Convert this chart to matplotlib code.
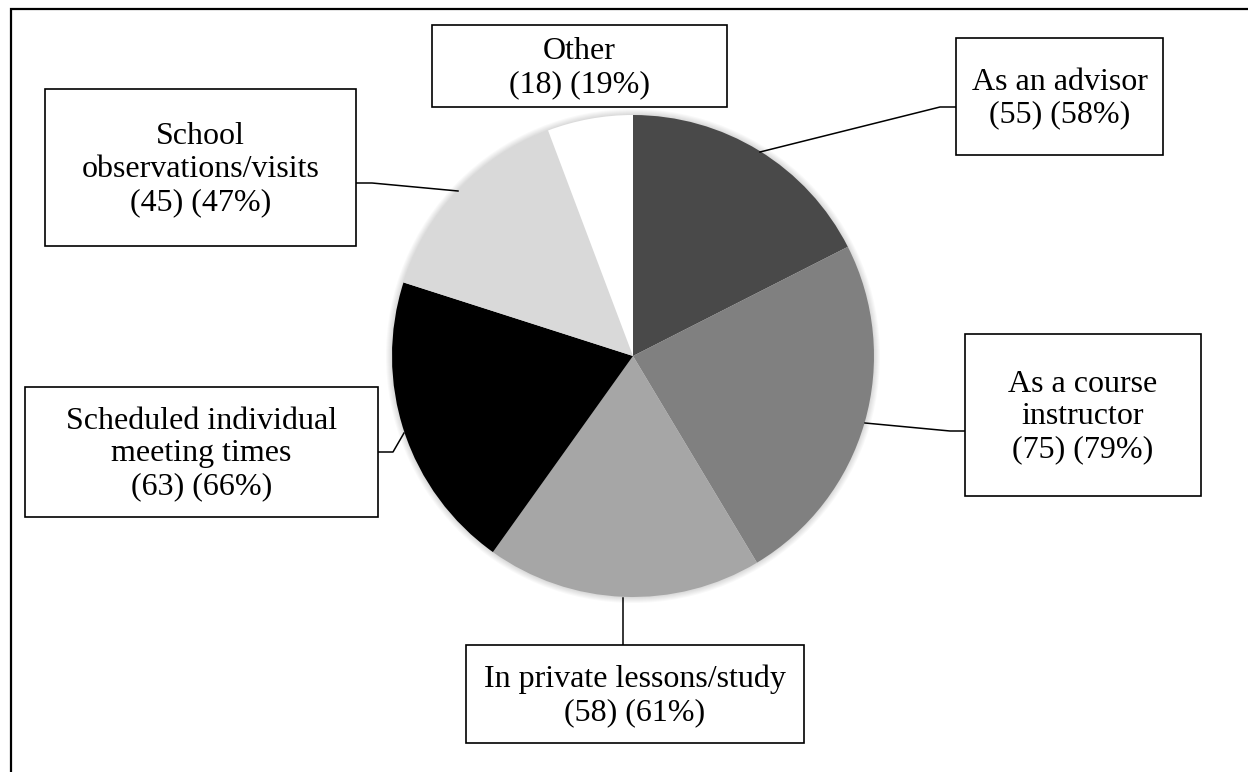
import matplotlib
matplotlib.use("Agg")
import matplotlib.pyplot as plt
from matplotlib.patches import Rectangle, Circle

# datos del grafico
categories = ["As an advisor", "As a course\ninstructor", "In private lessons/study",
              "Scheduled individual\nmeeting times", "School\nobservations/visits", "Other"]
counts = [55, 75, 58, 63, 45, 18]
percents = [58, 79, 61, 66, 47, 19]
colors = ["#494949", "#808080", "#a6a6a6", "#000000", "#d9d9d9", "#ffffff"]

W, H = 1248, 772

# cajas de etiquetas en pixeles (x0, y0, x1, y1), y leaders
boxes = [(956, 38, 1163, 155), (965, 334, 1201, 496), (466, 645, 804, 743),
         (25, 387, 378, 517), (45, 89, 356, 246), (432, 25, 727, 107)]
leaders = [[(956, 107), (940, 107), (760, 152)],
           [(965, 431), (950, 431), (865, 423)],
           [(623, 645), (623, 598)],
           [(378, 452), (393, 452), (404, 433)],
           [(356, 183), (372, 183), (458, 191)],
           []]

def fy(y):
    return H - y

fig = plt.figure(figsize=(W / 100, H / 100), dpi=100)
ax = fig.add_axes([0, 0, 1, 1])

cx, cy, r = 633, fy(356), 241

# sombra suave alrededor del pastel
for i in range(6, 0, -1):
    ax.add_patch(Circle((cx, cy), r + i, color="#000000", alpha=0.025, lw=0, zorder=1))

ax.pie(counts, colors=colors, startangle=90, counterclock=False,
       center=(cx, cy), radius=r, frame=True,
       wedgeprops=dict(linewidth=0, zorder=2))
ax.set_xlim(0, W)
ax.set_ylim(0, H)
ax.set_aspect("equal")
ax.axis("off")

# marco exterior
ax.plot([11, 11, W + 5], [-5, fy(9), fy(9)], color="black", lw=1.6, zorder=5,
        solid_joinstyle="miter")

for cat, n, p, (x0, y0, x1, y1), pts in zip(categories, counts, percents, boxes, leaders):
    ax.add_patch(Rectangle((x0, fy(y1)), x1 - x0, y1 - y0, facecolor="white",
                           edgecolor="black", lw=1.2, zorder=4))
    ax.text((x0 + x1) / 2, fy((y0 + y1) / 2 + 2), f"{cat}\n({n}) ({p}%)",
            ha="center", va="center", fontsize=23, family="Liberation Serif",
            linespacing=1.17, zorder=6)
    if pts:
        ax.plot([q[0] for q in pts], [fy(q[1]) for q in pts], color="black", lw=1.1, zorder=3)

fig.savefig("out.png", dpi=100)
